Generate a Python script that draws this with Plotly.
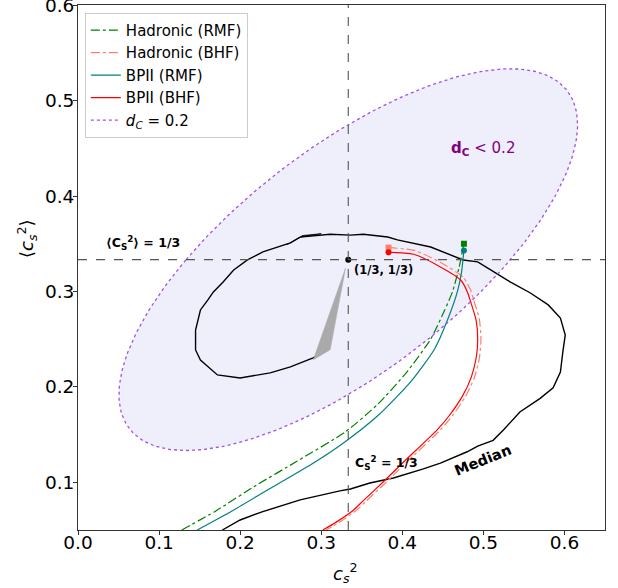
import numpy as np
import plotly.graph_objects as go

CONF = 1/3
D_C = 0.2

# Median contour (black)
med_x = [0.178, 0.200, 0.227, 0.274, 0.323, 0.336, 0.360, 0.389, 0.426, 0.447, 0.480, 0.493, 0.512, 0.525,
         0.545, 0.570, 0.586, 0.595, 0.598, 0.601, 0.595, 0.580, 0.558, 0.533, 0.515, 0.505, 0.493, 0.475,
         0.455, 0.435, 0.394, 0.382, 0.352, 0.336, 0.311, 0.274, 0.262, 0.228, 0.209, 0.192, 0.179, 0.167,
         0.160, 0.151, 0.145, 0.145, 0.151, 0.172, 0.200, 0.237, 0.262, 0.290, 0.301]
med_y = [0.050, 0.0605, 0.069, 0.0815, 0.091, 0.093, 0.0993, 0.1045, 0.114, 0.120, 0.132, 0.138, 0.144, 0.155,
         0.1737, 0.188, 0.199, 0.2156, 0.2366, 0.2544, 0.2722, 0.2859, 0.2984, 0.310, 0.3194, 0.3246, 0.331, 0.333,
         0.340, 0.3466, 0.354, 0.357, 0.360, 0.359, 0.360, 0.357, 0.351, 0.3414, 0.333, 0.3225, 0.310, 0.2995,
         0.291, 0.2806, 0.2596, 0.2387, 0.228, 0.2125, 0.2093, 0.2146, 0.2209, 0.2303, 0.2355]

# small filled slivers of the median contour
wedge_x = [0.290, 0.330, 0.311]
wedge_y = [0.228, 0.3246, 0.2387]
sliver_x = [0.258, 0.274, 0.300, 0.276]
sliver_y = [0.349, 0.357, 0.3605, 0.3585]

# Hadronic (RMF)
had_rmf_x = [0.128, 0.170, 0.220, 0.270, 0.330, 0.370, 0.405, 0.435, 0.452, 0.462, 0.470, 0.476]
had_rmf_y = [0.050, 0.070, 0.097, 0.122, 0.153, 0.182, 0.215, 0.250, 0.280, 0.300, 0.325, 0.350]
# BPII (RMF)
bp_rmf_x = [0.147, 0.190, 0.240, 0.290, 0.327, 0.370, 0.410, 0.440, 0.458, 0.468, 0.473, 0.476]
bp_rmf_y = [0.050, 0.070, 0.095, 0.120, 0.141, 0.170, 0.205, 0.240, 0.275, 0.300, 0.320, 0.343]
# BPII (BHF)
bp_bhf_x = [0.383, 0.414, 0.447, 0.472, 0.480, 0.484, 0.491, 0.493, 0.491, 0.485, 0.474, 0.458, 0.443,
            0.400, 0.376, 0.351, 0.340, 0.318, 0.302]
bp_bhf_y = [0.341, 0.339, 0.3257, 0.312, 0.300, 0.290, 0.270, 0.250, 0.230, 0.210, 0.190, 0.170, 0.155,
            0.120, 0.100, 0.080, 0.071, 0.058, 0.050]
# Hadronic (BHF)
had_bhf_x = [0.383, 0.415, 0.449, 0.475, 0.484, 0.488, 0.495, 0.497, 0.495, 0.489, 0.478, 0.462, 0.447,
             0.404, 0.380, 0.355, 0.344, 0.322, 0.306]
had_bhf_y = [0.346, 0.343, 0.3295, 0.315, 0.302, 0.291, 0.271, 0.250, 0.230, 0.210, 0.190, 0.170, 0.155,
             0.120, 0.100, 0.080, 0.071, 0.058, 0.050]

t = np.linspace(0, 2*np.pi, 300)
ell_x = CONF + D_C*(np.sin(t) - np.cos(t))
ell_y = CONF + D_C*np.sin(t)

FONT = "DejaVu Sans"
fig = go.Figure()

fig.add_trace(go.Scatter(x=ell_x, y=ell_y, fill="toself", fillcolor="rgba(230,230,250,0.65)",
                         line=dict(width=0), mode="lines", showlegend=False, hoverinfo="skip"))

fig.add_trace(go.Scatter(x=med_x, y=med_y, mode="lines", line=dict(color="black", width=1.4), showlegend=False))
fig.add_trace(go.Scatter(x=wedge_x, y=wedge_y, fill="toself", fillcolor="#aaaaaa", mode="lines",
                         line=dict(width=0.5, color="#aaaaaa"), showlegend=False))
fig.add_trace(go.Scatter(x=sliver_x, y=sliver_y, fill="toself", fillcolor="black", mode="lines",
                         line=dict(width=0.8, color="black"), showlegend=False))

fig.add_trace(go.Scatter(x=had_rmf_x, y=had_rmf_y, mode="lines", name="Hadronic (RMF)",
                         line=dict(color="green", width=1.2, dash="dashdot", shape="spline", smoothing=0.6)))
fig.add_trace(go.Scatter(x=had_bhf_x, y=had_bhf_y, mode="lines", name="Hadronic (BHF)",
                         line=dict(color="salmon", width=1.2, dash="dashdot", shape="spline", smoothing=0.6)))
fig.add_trace(go.Scatter(x=bp_rmf_x, y=bp_rmf_y, mode="lines", name="BPII (RMF)",
                         line=dict(color="teal", width=1.2, shape="spline", smoothing=0.6)))
fig.add_trace(go.Scatter(x=bp_bhf_x, y=bp_bhf_y, mode="lines", name="BPII (BHF)",
                         line=dict(color="red", width=1.2, shape="spline", smoothing=0.6)))
fig.add_trace(go.Scatter(x=ell_x, y=ell_y, mode="lines", name="<i>d</i><sub><i>C</i></sub> = 0.2",
                         line=dict(color="#a050e8", width=1.3, dash="dot")))

# end markers
fig.add_trace(go.Scatter(x=[had_rmf_x[-1]], y=[had_rmf_y[-1]], mode="markers",
                         marker=dict(symbol="square", size=6, color="green"), showlegend=False))
fig.add_trace(go.Scatter(x=[bp_rmf_x[-1]], y=[bp_rmf_y[-1]], mode="markers",
                         marker=dict(symbol="circle", size=6, color="teal"), showlegend=False))
fig.add_trace(go.Scatter(x=[had_bhf_x[0]], y=[had_bhf_y[0]], mode="markers",
                         marker=dict(symbol="square", size=6, color="salmon"), showlegend=False))
fig.add_trace(go.Scatter(x=[bp_bhf_x[0]], y=[bp_bhf_y[0]], mode="markers",
                         marker=dict(symbol="circle", size=6, color="red"), showlegend=False))
fig.add_trace(go.Scatter(x=[CONF], y=[CONF], mode="markers",
                         marker=dict(symbol="circle", size=6, color="black"), showlegend=False))

shapes = [
    dict(type="line", xref="x", yref="paper", x0=CONF, x1=CONF, y0=0, y1=1,
         line=dict(color="#555555", width=1.1, dash="dash")),
    dict(type="line", xref="paper", yref="y", x0=0, x1=1, y0=CONF, y1=CONF,
         line=dict(color="#555555", width=1.1, dash="dash")),
]

ann = [
    dict(x=0.080, y=0.351, text="<b>⟨C<sub>S</sub><sup>2</sup>⟩ = 1/3</b>", font=dict(size=12.5, color="black")),
    dict(x=0.377, y=0.323, text="<b>(1/3, 1/3)</b>", font=dict(size=11.5, color="black")),
    dict(x=0.380, y=0.120, text="<b>C<sub>S</sub><sup>2</sup> = 1/3</b>", font=dict(size=12.5, color="black")),
    dict(x=0.500, y=0.1234, text="<b>Median</b>", textangle=-22, font=dict(size=14.5, color="black")),
    dict(x=0.499, y=0.450, text="<b>d<sub>C</sub></b> &lt; 0.2", font=dict(size=15, color="purple")),
]
for a in ann:
    a.update(xref="x", yref="y", showarrow=False)
# axis titles
ann.append(dict(xref="paper", yref="paper", x=0.507, y=-0.082, xanchor="center", yanchor="middle",
                showarrow=False, text="<i>c</i><sub><i>s</i></sub><sup>2</sup>", font=dict(size=18, color="black")))
ann.append(dict(xref="paper", yref="paper", x=-0.097, y=0.556, xanchor="center", yanchor="middle",
                showarrow=False, textangle=-90,
                text="⟨<i>c</i><sub><i>s</i></sub><sup>2</sup>⟩", font=dict(size=18, color="black")))

fig.update_layout(
    width=618, height=588,
    margin=dict(l=78, r=13, t=5, b=58),
    plot_bgcolor="white", paper_bgcolor="white",
    font=dict(family=FONT, size=15, color="black"),
    shapes=shapes, annotations=ann,
    legend=dict(x=0.013, y=0.985, xanchor="left", yanchor="top", bgcolor="rgba(255,255,255,0.9)",
                bordercolor="#cccccc", borderwidth=1, font=dict(size=15), tracegroupgap=0),
    xaxis=dict(range=[0, 0.65], tickvals=[0, 0.1, 0.2, 0.3, 0.4, 0.5, 0.6],
               ticktext=["0.0", "0.1", "0.2", "0.3", "0.4", "0.5", "0.6"], automargin=False,
               ticks="outside", ticklen=4, tickcolor="#333", showline=True, linecolor="#333", linewidth=1,
               mirror=True, showgrid=False, zeroline=False, tickfont=dict(size=18.5),
               ticklabelstandoff=-8, ticklabeloverflow="allow"),
    yaxis=dict(range=[0.05, 0.6002], tickvals=[0.1, 0.2, 0.3, 0.4, 0.5, 0.6],
               ticktext=["0.1", "0.2", "0.3", "0.4", "0.5", "0.6"], automargin=False,
               ticks="outside", ticklen=4, tickcolor="#333", showline=True, linecolor="#333", linewidth=1,
               mirror=True, showgrid=False, zeroline=False, tickfont=dict(size=18.5),
               ticklabelstandoff=-5, ticklabeloverflow="allow"),
)

fig.write_html("out.html", config={"displayModeBar": False},
               post_script="document.body.style.margin='0px';")
